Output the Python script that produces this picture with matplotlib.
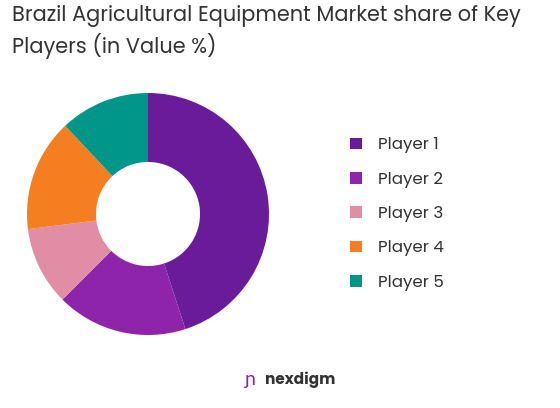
import matplotlib
matplotlib.use("Agg")
import matplotlib.pyplot as plt

labels = ["Player 1", "Player 2", "Player 3", "Player 4", "Player 5"]
shares = [45, 17.5, 10.5, 15, 12]
colors = ["#6A1B9A", "#8E24AA", "#E08DA5", "#F57F20", "#00968A"]

plt.rcParams["font.family"] = ["Poppins", "Lato", "DejaVu Sans"]

fig = plt.figure(figsize=(5.6, 4.08), dpi=100)
fig.patch.set_facecolor("white")

ax = fig.add_axes([27 / 560, 1 - 335 / 408, 242 / 560, 242 / 408])
wedges, _ = ax.pie(shares, colors=colors, startangle=90, counterclock=False,
                   wedgeprops=dict(width=0.57, linewidth=0))
ax.set_xlim(-1, 1)
ax.set_ylim(-1, 1)
ax.set_aspect("equal")

fig.text(12 / 560, 1 - 32 / 408,
         "Brazil Agricultural Equipment Market share of Key\nPlayers (in Value %)",
         fontsize=15, color="#333333", va="center", linespacing=1.3)

leg = fig.legend(wedges, labels, loc="center left",
                 bbox_to_anchor=(335 / 560, 1 - 214 / 408),
                 frameon=False, fontsize=12, handlelength=0.7, handleheight=0.7,
                 labelspacing=1.1, handletextpad=1.0)
for t in leg.get_texts():
    t.set_color("#333333")

fig.text(265 / 560, 1 - 380 / 408, "nexdigm", fontsize=11, color="#333333",
         ha="left", va="center", fontweight="bold")
fig.text(250 / 560, 1 - 380 / 408, "ɲ", fontsize=14, color="#8E24AA",
         ha="center", va="center")

fig.savefig("out.png", dpi=100)
